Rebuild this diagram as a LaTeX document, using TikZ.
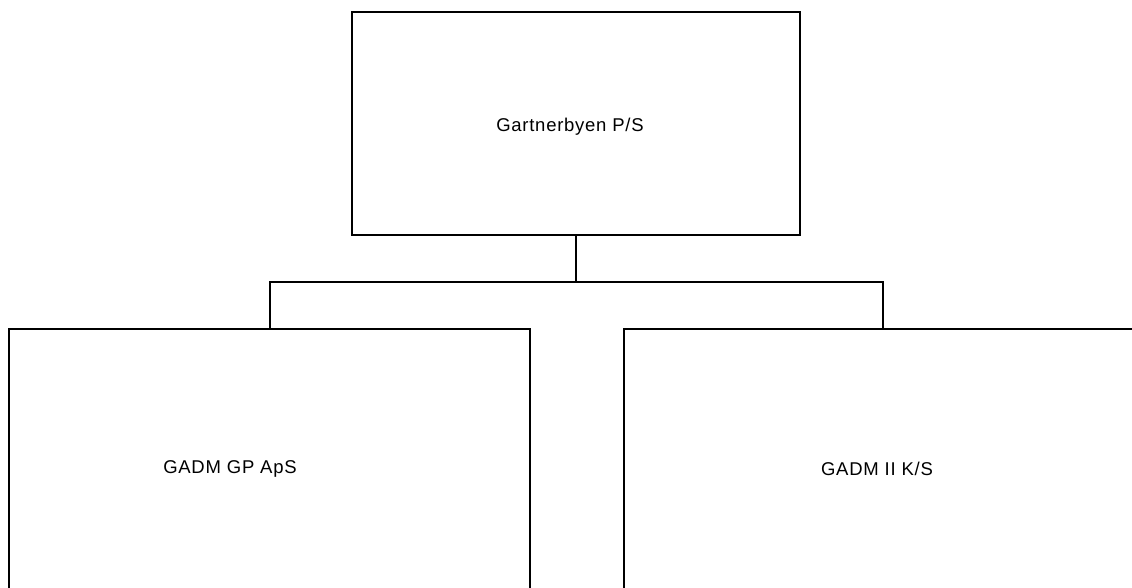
\documentclass[tikz,border=0pt]{standalone}
\usepackage{fontspec}
\setmainfont{Liberation Sans}[LetterSpace=4]
\begin{document}
\begin{tikzpicture}[x=1pt,y=-1pt,
  entity/.style={draw=black,line width=2pt,inner sep=0pt,outer sep=0pt},
  lbl/.style={font=\fontsize{18.5}{22}\selectfont,inner sep=0pt},
  link/.style={draw=black,line width=2pt}]
\useasboundingbox (0,0) rectangle (1132,587);
\clip (0,0) rectangle (1132,587);
\fill[white] (0,0) rectangle (1132,587);
\node[entity,minimum width=448pt,minimum height=223pt] (top) at (576,123.5) {};
\node[entity,minimum width=521pt,minimum height=280pt] (left) at (269.5,469) {};
\node[entity,minimum width=518pt,minimum height=280pt] (right) at (883,469) {};
\node[lbl] (ttop) at (570,127) {Gartnerbyen P/S};
\node[lbl] (tleft) at (230,469) {GADM GP ApS};
\node[lbl] (tright) at (877,469) {GADM II K/S};
\coordinate (j) at (576,282);
\draw[link] (top.south) -- (j);
\draw[link] (left.north) |- (j) -| (right.north);
\end{tikzpicture}
\end{document}
